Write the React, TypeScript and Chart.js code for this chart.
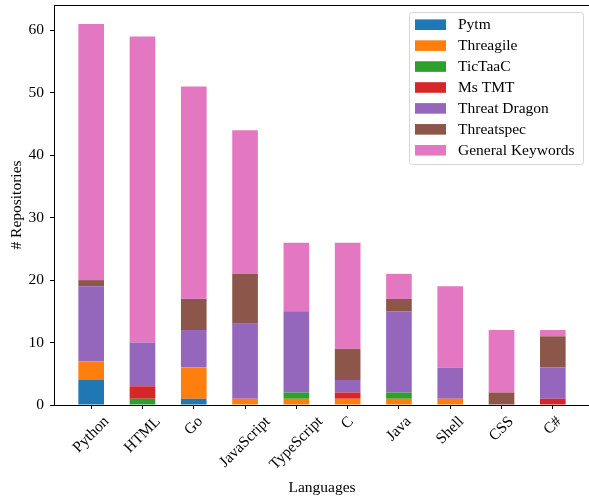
import React, { useEffect, useRef } from 'react';
import { Chart, registerables } from 'chart.js';

Chart.register(...registerables);

const categories = ['Python', 'HTML', 'Go', 'JavaScript', 'TypeScript', 'C', 'Java', 'Shell', 'CSS', 'C#'];
const pytm = [4, 0, 1, 0, 0, 0, 0, 0, 0, 0];
const threagile = [3, 0, 5, 1, 1, 1, 1, 1, 0, 0];
const tictaac = [0, 1, 0, 0, 1, 0, 1, 0, 0, 0];
const msTmt = [0, 2, 0, 0, 0, 1, 0, 0, 0, 1];
const threatDragon = [12, 7, 6, 12, 13, 2, 13, 5, 0, 5];
const threatspec = [1, 0, 5, 8, 0, 5, 2, 0, 2, 5];
const generalKeywords = [41, 49, 34, 23, 11, 17, 4, 13, 10, 1];
const seriesNames = ['Pytm', 'Threagile', 'TicTaaC', 'Ms TMT', 'Threat Dragon', 'Threatspec', 'General Keywords'];
const seriesColors = ['#1f77b4', '#ff7f0e', '#2ca02c', '#d62728', '#9467bd', '#8c564b', '#e377c2'];
const yTicks = [0, 10, 20, 30, 40, 50, 60];

const FAMILY = "'Liberation Serif', 'Times New Roman', serif";
const FSIZE = 15.5;

const framePlugin = {
  id: 'frame',
  afterDatasetsDraw(chart: any) {
    const { ctx, chartArea } = chart;
    ctx.save();
    ctx.strokeStyle = '#000';
    ctx.lineWidth = 1;
    const l = Math.round(chartArea.left) + 0.5;
    const t = Math.round(chartArea.top) + 0.5;
    const r = Math.round(chartArea.right) + 0.5;
    const b = Math.round(chartArea.bottom) + 0.5;
    ctx.strokeRect(l, t, r - l, b - t);
    ctx.restore();
  },
};

const xLabelPlugin = {
  id: 'xlabels',
  afterDraw(chart: any) {
    const { ctx, chartArea } = chart;
    const xs = chart.scales.x;
    ctx.save();
    ctx.font = `${FSIZE}px ${FAMILY}`;
    ctx.fillStyle = '#000';
    ctx.textAlign = 'center';
    ctx.textBaseline = 'middle';
    const y0 = chartArea.bottom + 9;
    categories.forEach((lab, i) => {
      const px = xs.getPixelForValue(i);
      const w = ctx.measureText(lab).width;
      const h = FSIZE * 0.95;
      const cy = y0 + ((w + h) * Math.SQRT1_2) / 2;
      ctx.save();
      ctx.translate(px, cy);
      ctx.rotate(-Math.PI / 4);
      ctx.fillText(lab, 0, 0);
      ctx.restore();
    });
    ctx.restore();
  },
};

const legendPlugin = {
  id: 'boxlegend',
  afterDraw(chart: any) {
    const { ctx } = chart;
    const ds = chart.data.datasets;
    ctx.save();
    const bx = 409.5, by = 12.5, bw = 174, bh = 152, rr = 3;
    ctx.beginPath();
    ctx.moveTo(bx + rr, by);
    ctx.lineTo(bx + bw - rr, by);
    ctx.arcTo(bx + bw, by, bx + bw, by + rr, rr);
    ctx.lineTo(bx + bw, by + bh - rr);
    ctx.arcTo(bx + bw, by + bh, bx + bw - rr, by + bh, rr);
    ctx.lineTo(bx + rr, by + bh);
    ctx.arcTo(bx, by + bh, bx, by + bh - rr, rr);
    ctx.lineTo(bx, by + rr);
    ctx.arcTo(bx, by, bx + rr, by, rr);
    ctx.closePath();
    ctx.fillStyle = 'rgba(255,255,255,0.8)';
    ctx.fill();
    ctx.strokeStyle = '#d6d6d6';
    ctx.lineWidth = 1;
    ctx.stroke();
    ctx.font = `${FSIZE}px ${FAMILY}`;
    ctx.textBaseline = 'middle';
    ctx.textAlign = 'left';
    ds.forEach((d: any, k: number) => {
      const cy = 24.7 + k * 20.93;
      ctx.fillStyle = d.backgroundColor;
      ctx.fillRect(415, cy - 5.3, 31, 10.6);
      ctx.fillStyle = '#000';
      ctx.fillText(d.label, 458, cy + 0.5);
    });
    ctx.restore();
  },
};

export default function App() {
  const ref = useRef<HTMLCanvasElement>(null);
  useEffect(() => {
    document.body.style.margin = '0';
    const series = [pytm, threagile, tictaac, msTmt, threatDragon, threatspec, generalKeywords];
    const chart = new Chart(ref.current!, {
      type: 'bar',
      data: {
        datasets: series.map((vals, k) => ({
          label: seriesNames[k],
          data: vals.map((v, i) => ({ x: i, y: v })),
          backgroundColor: seriesColors[k],
          borderWidth: 0,
          barPercentage: 0.5,
          categoryPercentage: 1,
        })),
      },
      options: {
        animation: false,
        responsive: false,
        devicePixelRatio: 1,
        layout: { padding: { top: 5, right: 10, bottom: 0, left: 0 } },
        plugins: { legend: { display: false }, tooltip: { enabled: false } },
        scales: {
          x: {
            type: 'linear',
            stacked: true,
            offset: false,
            min: -0.725,
            max: 9.725,
            afterBuildTicks: (s: any) => {
              s.ticks = categories.map((_, i) => ({ value: i }));
            },
            afterFit: (s: any) => {
              s.height = 95;
              s.paddingLeft = 0;
              s.paddingRight = 0;
              s.paddingTop = 0;
              s.paddingBottom = 0;
            },
            grid: { drawOnChartArea: false, drawTicks: true, tickLength: 4, color: '#000', offset: false },
            border: { display: false },
            ticks: { display: false },
            title: {
              display: true,
              text: 'Languages',
              color: '#000',
              font: { family: FAMILY, size: FSIZE },
              padding: { top: 0, bottom: 3 },
            },
          },
          y: {
            type: 'linear',
            stacked: true,
            min: 0,
            max: 64.05,
            afterBuildTicks: (s: any) => {
              s.ticks = yTicks.map((v) => ({ value: v }));
            },
            afterFit: (s: any) => {
              s.width = 54;
              s.paddingLeft = 0;
              s.paddingRight = 0;
              s.paddingTop = 0;
              s.paddingBottom = 0;
            },
            grid: { drawOnChartArea: false, drawTicks: true, tickLength: 4, color: '#000' },
            border: { display: false },
            ticks: { color: '#000', padding: 6, font: { family: FAMILY, size: FSIZE } },
            title: {
              display: true,
              text: '# Repositories',
              color: '#000',
              font: { family: FAMILY, size: FSIZE },
              padding: { top: 8, bottom: 0 },
            },
          },
        },
      },
      plugins: [framePlugin, xLabelPlugin, legendPlugin],
    } as any);
    return () => chart.destroy();
  }, []);
  return (
    <div style={{ width: 589, height: 500, overflow: 'hidden' }}>
      <canvas ref={ref} width={600} height={500} style={{ display: 'block' }} />
    </div>
  );
}
